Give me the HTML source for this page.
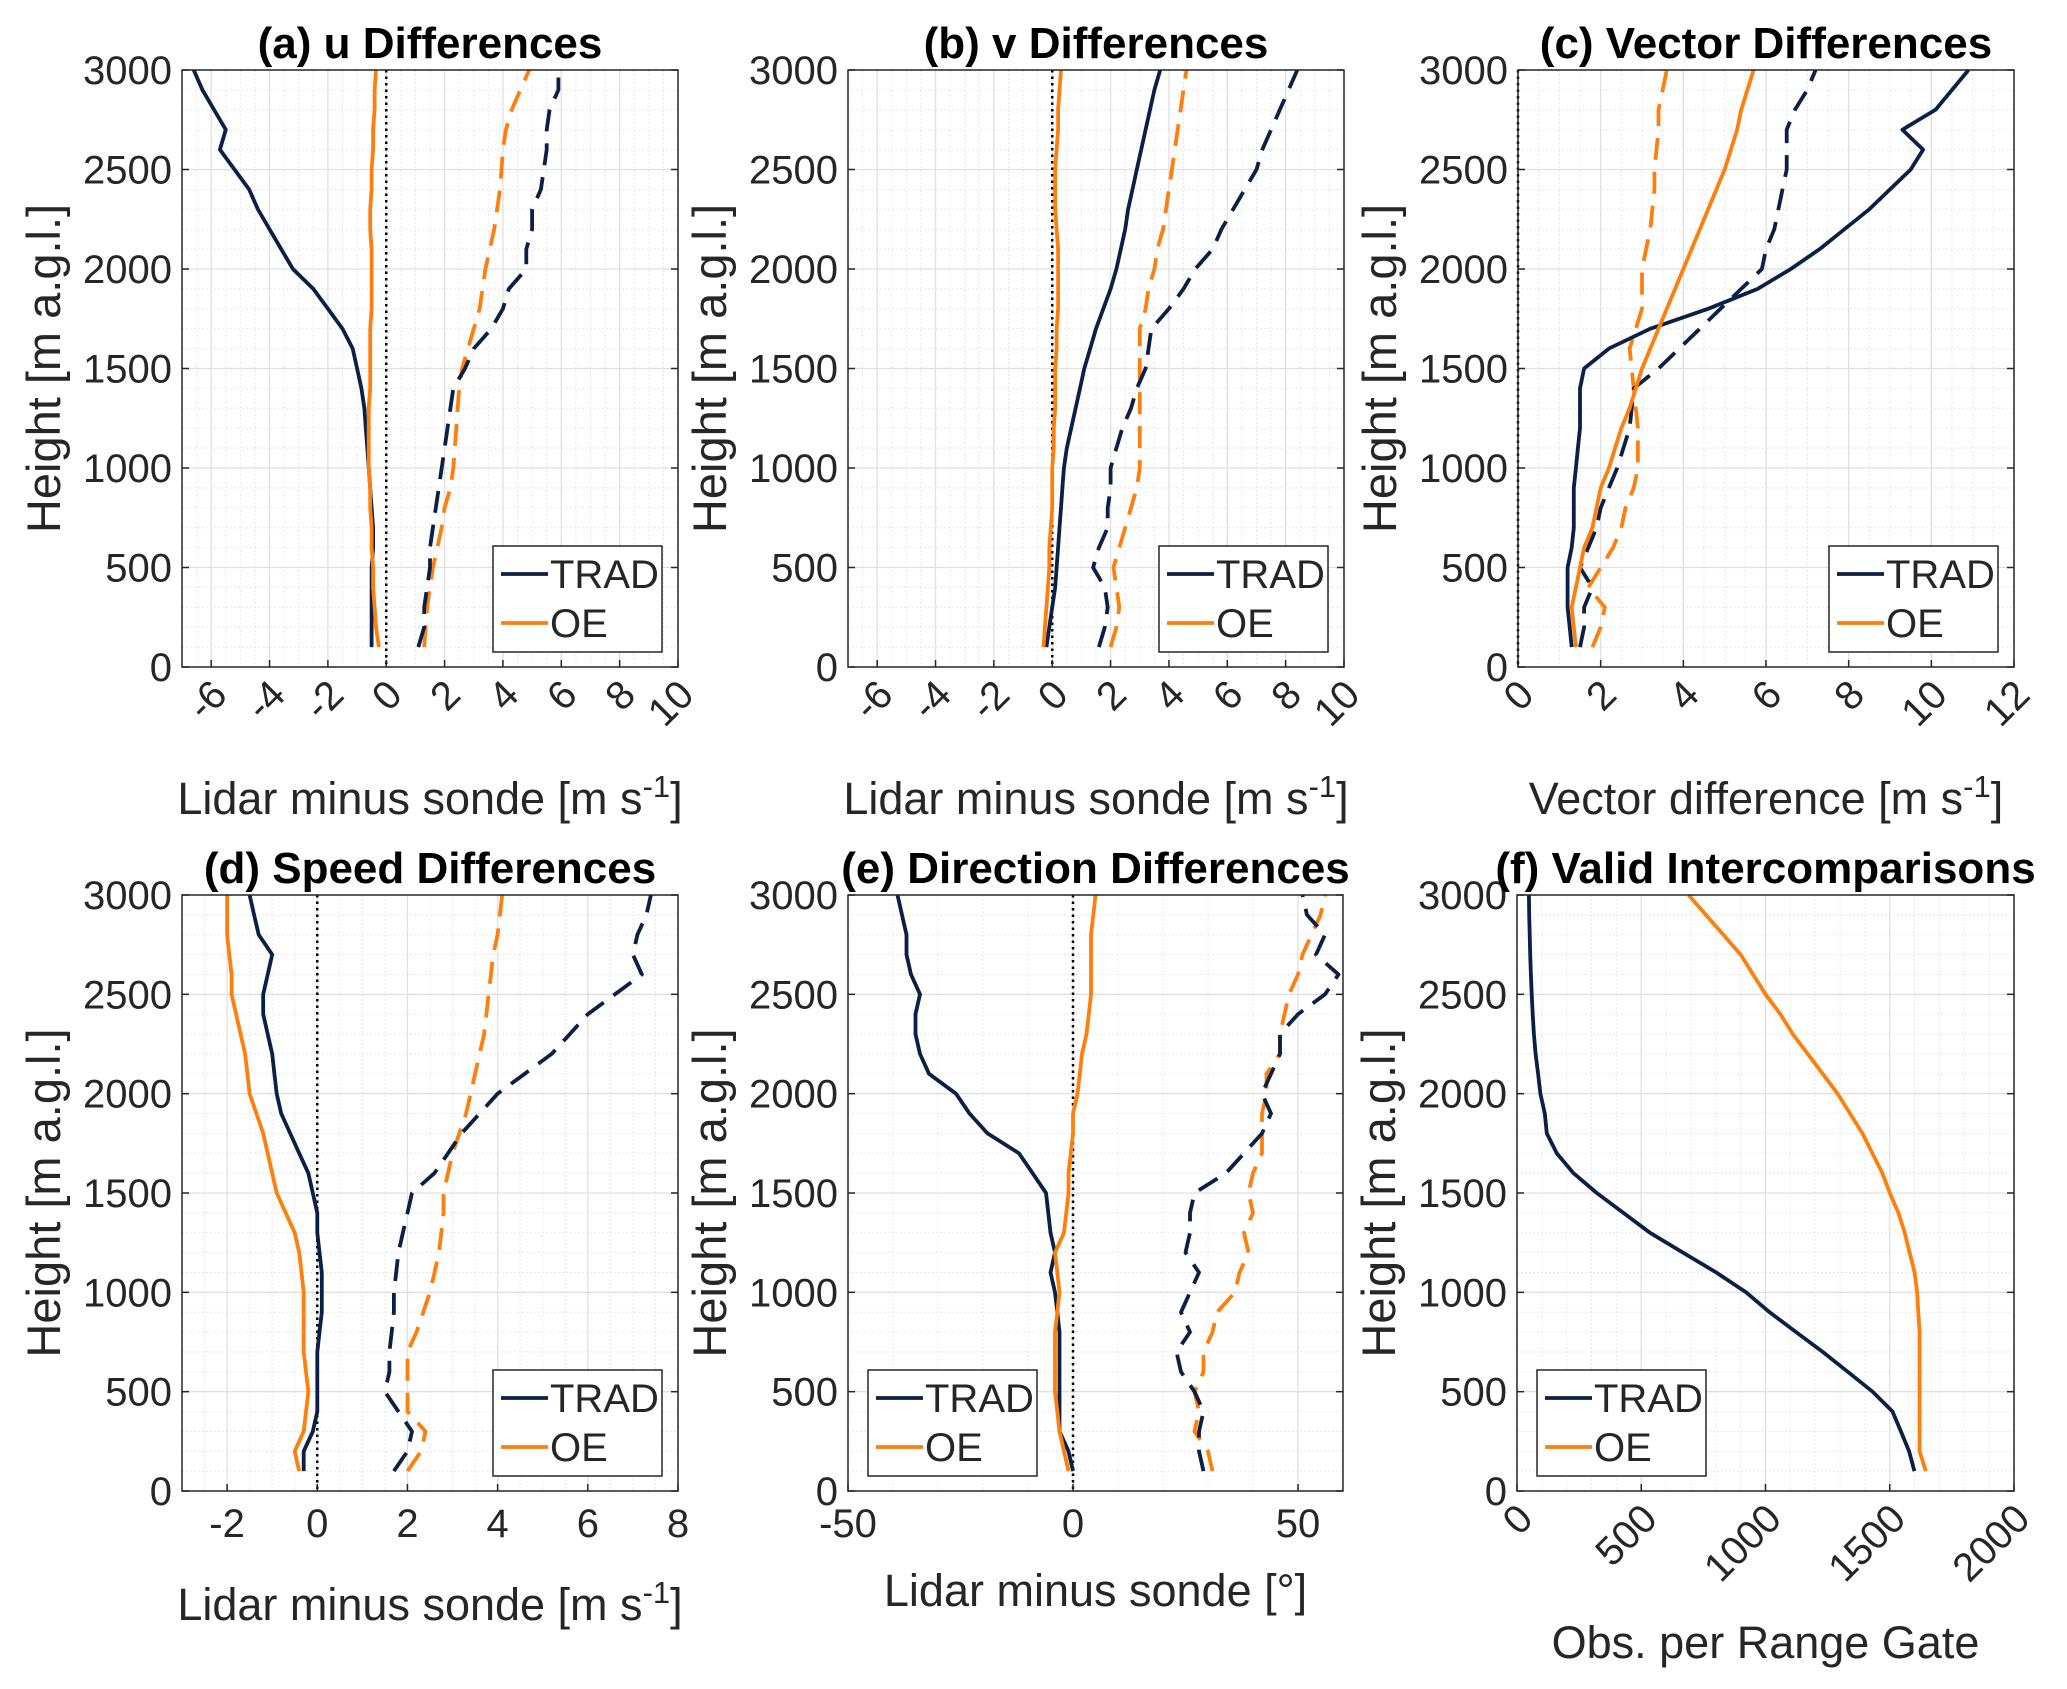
<!DOCTYPE html>
<html><head><meta charset="utf-8"><style>
html,body{margin:0;padding:0;background:#fff;}
svg text{font-family:"Liberation Sans",Arial,sans-serif;fill:#262626;}
</style></head><body>
<svg id="fig" xmlns="http://www.w3.org/2000/svg" width="2067" height="1684" viewBox="0 0 2067 1684"></svg>
<script>
const heights=[100,200,300,400,500,600,700,800,900,1000,1100,1200,1300,1400,1500,1600,1700,1800,1900,2000,2100,2200,2300,2400,2500,2600,2700,2800,2900,3000];
const yTicks=[0,500,1000,1500,2000,2500,3000];
const aTradSolid=[-0.5,-0.5,-0.5,-0.5,-0.5,-0.45,-0.45,-0.5,-0.55,-0.6,-0.65,-0.7,-0.75,-0.85,-1.0,-1.15,-1.5,-2.0,-2.5,-3.2,-3.6,-4.0,-4.4,-4.7,-5.2,-5.7,-5.5,-5.9,-6.3,-6.6];
const aOeSolid=[-0.25,-0.35,-0.4,-0.45,-0.45,-0.5,-0.5,-0.55,-0.55,-0.6,-0.6,-0.6,-0.6,-0.55,-0.55,-0.55,-0.55,-0.5,-0.5,-0.5,-0.5,-0.55,-0.55,-0.5,-0.5,-0.45,-0.45,-0.4,-0.4,-0.35];
const aTradDash=[1.1,1.3,1.3,1.4,1.5,1.5,1.6,1.7,1.8,1.9,2.0,2.1,2.2,2.3,2.7,3.0,3.6,4.0,4.2,4.8,4.8,5.0,5.0,5.3,5.4,5.5,5.5,5.6,5.9,5.9];
const aOeDash=[1.3,1.35,1.4,1.5,1.6,1.75,1.9,2.0,2.2,2.3,2.35,2.4,2.45,2.5,2.6,2.8,3.0,3.2,3.3,3.4,3.55,3.7,3.8,3.9,3.95,4.0,4.1,4.3,4.6,4.9];
const bTradSolid=[-0.2,-0.1,0,0.1,0.15,0.2,0.25,0.3,0.35,0.4,0.5,0.65,0.8,0.95,1.1,1.3,1.5,1.75,2.0,2.2,2.35,2.5,2.6,2.75,2.9,3.05,3.2,3.35,3.5,3.7];
const bOeSolid=[-0.3,-0.25,-0.2,-0.15,-0.1,-0.1,-0.05,0,0,0,0.05,0.05,0.1,0.1,0.1,0.15,0.15,0.2,0.2,0.2,0.2,0.15,0.1,0.1,0.1,0.15,0.2,0.2,0.25,0.3];
const bTradDash=[1.6,1.8,1.9,1.8,1.4,1.6,1.9,1.9,2.0,2.0,2.2,2.4,2.7,2.9,3.2,3.3,3.4,4.0,4.5,4.9,5.5,5.8,6.2,6.6,7.0,7.2,7.5,7.8,8.1,8.4];
const bOeDash=[2.0,2.2,2.3,2.2,2.1,2.3,2.5,2.7,2.9,3.0,3.0,3.0,3.0,3.0,3.0,3.0,3.0,3.2,3.3,3.5,3.6,3.8,3.9,4.0,4.1,4.2,4.3,4.4,4.5,4.6];
const cTradSolid=[1.3,1.25,1.2,1.2,1.2,1.3,1.35,1.35,1.35,1.4,1.45,1.5,1.5,1.5,1.6,2.2,3.2,4.6,5.8,6.6,7.3,7.9,8.5,9.0,9.5,9.8,9.3,10.1,10.5,10.9];
const cOeSolid=[1.4,1.35,1.3,1.4,1.5,1.6,1.8,1.9,2.0,2.2,2.35,2.5,2.7,2.85,3.0,3.2,3.4,3.6,3.8,4.0,4.2,4.4,4.6,4.8,5.0,5.15,5.3,5.4,5.55,5.7];
const cTradDash=[1.5,1.6,1.6,1.8,1.5,1.7,1.9,2.0,2.2,2.4,2.55,2.7,2.75,2.8,3.4,3.9,4.4,4.9,5.4,5.9,6.0,6.2,6.3,6.4,6.5,6.5,6.5,6.7,7.0,7.2];
const cOeDash=[1.8,2.0,2.1,1.7,2.0,2.3,2.5,2.6,2.8,2.9,2.9,2.9,2.85,2.8,2.75,2.7,2.85,3.0,3.0,3.0,3.1,3.2,3.25,3.3,3.3,3.35,3.4,3.4,3.5,3.6];
const dTradSolid=[-0.3,-0.3,-0.1,0,0,0,0,0.05,0.1,0.1,0.1,0.05,0,0,-0.1,-0.2,-0.4,-0.6,-0.8,-0.9,-0.95,-1.0,-1.1,-1.2,-1.2,-1.1,-1.0,-1.3,-1.4,-1.5];
const dOeSolid=[-0.4,-0.5,-0.3,-0.25,-0.2,-0.25,-0.3,-0.3,-0.3,-0.3,-0.35,-0.4,-0.5,-0.7,-0.9,-1.0,-1.1,-1.2,-1.35,-1.5,-1.55,-1.6,-1.7,-1.8,-1.9,-1.9,-1.95,-2.0,-2.0,-2.0];
const dTradDash=[1.7,2.0,2.1,1.8,1.5,1.6,1.6,1.65,1.7,1.7,1.75,1.8,1.9,2.0,2.1,2.6,2.9,3.2,3.6,4.0,4.6,5.2,5.6,6.0,6.6,7.2,7.0,7.1,7.3,7.4];
const dOeDash=[2.0,2.3,2.4,2.0,2.0,2.0,2.0,2.2,2.35,2.5,2.6,2.7,2.75,2.8,2.8,2.9,3.0,3.15,3.3,3.4,3.5,3.6,3.7,3.75,3.8,3.85,3.9,4.0,4.05,4.1];
const eTradSolid=[0,-1,-3,-3,-3,-3,-3,-3,-3.5,-4,-5,-4,-5,-5.5,-6,-9,-12,-19,-23,-26,-32,-34,-35,-35,-34,-36,-37,-37,-38,-39];
const eOeSolid=[-1,-2,-3,-3.5,-4,-4,-4,-4,-3.5,-3,-3.5,-4,-2,-1.5,-1,-1,-0.5,0,0,1,1.5,2,3,3.5,4,4,4,4,4.5,5];
const eTradDash=[29,28,28,29,27,24,23,26,24,26,28,25,26,26,27,34,38,42,44,42,44,46,46,50,56,59,54,56,52,51];
const eOeDash=[31,30,27,28,27,29,29,31,32,36,37,39,38,40,39,40,42,42,42,43,43,46,46,47,48,50,51,53,55,56];
const fTrad=[1599,1578,1545,1511,1431,1331,1230,1123,1016,922,802,668,535,428,321,227,160,120,112,94,85,75,68,63,59,56,53,51,49,48];
const fOe=[1645,1620,1620,1620,1620,1620,1620,1620,1615,1610,1600,1580,1560,1535,1500,1470,1430,1390,1340,1290,1230,1170,1110,1060,1000,950,900,830,760,690];

const NAVY="#0c1f46", ORANGE="#ff7f0e";
const svg=document.getElementById('fig');
const NS="http://www.w3.org/2000/svg";
function mk(tag,attrs,parent){const e=document.createElementNS(NS,tag);for(const k in attrs)e.setAttribute(k,attrs[k]);(parent||svg).appendChild(e);return e;}

const panels=[
 {id:'a',title:'(a) u Differences',x0:182,x1:678,y0:70,y1:667,xmin:-7,xmax:10,xt:[-6,-4,-2,0,2,4,6,8,10],minor:4,rot:true,xlabel:'Lidar minus sonde [m s',sup:'-1',close:']',xly:800,zero:true,legend:'right',
  series:[[aOeDash,ORANGE,true],[aTradDash,NAVY,true],[aTradSolid,NAVY,false],[aOeSolid,ORANGE,false]]},
 {id:'b',title:'(b) v Differences',x0:848,x1:1344,y0:70,y1:667,xmin:-7,xmax:10,xt:[-6,-4,-2,0,2,4,6,8,10],minor:4,rot:true,xlabel:'Lidar minus sonde [m s',sup:'-1',close:']',xly:800,zero:true,legend:'right',
  series:[[bOeDash,ORANGE,true],[bTradDash,NAVY,true],[bTradSolid,NAVY,false],[bOeSolid,ORANGE,false]]},
 {id:'c',title:'(c) Vector Differences',x0:1518,x1:2014,y0:70,y1:667,xmin:0,xmax:12,xt:[0,2,4,6,8,10,12],minor:4,rot:true,xlabel:'Vector difference [m s',sup:'-1',close:']',xly:800,zero:true,legend:'right',
  series:[[cOeDash,ORANGE,true],[cTradDash,NAVY,true],[cTradSolid,NAVY,false],[cOeSolid,ORANGE,false]]},
 {id:'d',title:'(d) Speed Differences',x0:182,x1:678,y0:895,y1:1491,xmin:-3,xmax:8,xt:[-2,0,2,4,6,8],minor:4,rot:false,xlabel:'Lidar minus sonde [m s',sup:'-1',close:']',xly:1606,zero:true,legend:'right',
  series:[[dOeDash,ORANGE,true],[dTradDash,NAVY,true],[dTradSolid,NAVY,false],[dOeSolid,ORANGE,false]]},
 {id:'e',title:'(e) Direction Differences',x0:848,x1:1343,y0:895,y1:1491,xmin:-50,xmax:60,xt:[-50,0,50],minor:5,rot:false,xlabel:'Lidar minus sonde [°]',sup:'',close:'',xly:1592,zero:true,legend:'left',
  series:[[eOeDash,ORANGE,true],[eTradDash,NAVY,true],[eTradSolid,NAVY,false],[eOeSolid,ORANGE,false]]},
 {id:'f',title:'(f) Valid Intercomparisons',x0:1517,x1:2014,y0:895,y1:1491,xmin:0,xmax:2000,xt:[0,500,1000,1500,2000],minor:5,rot:true,xlabel:'Obs. per Range Gate',sup:'',close:'',xly:1644,zero:false,legend:'left',
  series:[[fTrad,NAVY,false],[fOe,ORANGE,false]]}
];

panels.forEach(p=>{
  const g=mk('g',{});
  
  
  const sx=v=>p.x0+(v-p.xmin)/(p.xmax-p.xmin)*(p.x1-p.x0);
  const sy=v=>p.y1-v/3000*(p.y1-p.y0);
  const mg=mk('g',{stroke:'#e8e8e8','stroke-width':1,'stroke-dasharray':'2 2'},g);
  
  
  for(let h=100;h<3000;h+=100){if(h%500)mk('line',{x1:p.x0,x2:p.x1,y1:sy(h),y2:sy(h)},mg);}
  const step=p.xt[1]-p.xt[0];
  for(let v=p.xt[0]-step;v<=p.xmax;v+=step){for(let k=1;k<p.minor;k++){const vv=v+k*step/p.minor;if(vv>p.xmin&&vv<p.xmax)mk('line',{x1:sx(vv),x2:sx(vv),y1:p.y0,y2:p.y1},mg);}}
  const Mg=mk('g',{stroke:'#e0e0e0','stroke-width':1.3},g);
  
  
  yTicks.forEach(h=>mk('line',{x1:p.x0,x2:p.x1,y1:sy(h),y2:sy(h)},Mg));
  p.xt.forEach(v=>mk('line',{x1:sx(v),x2:sx(v),y1:p.y0,y2:p.y1},Mg));
  if(p.zero){const z=mk('line',{x1:sx(0),x2:sx(0),y1:p.y0,y2:p.y1,stroke:'#000','stroke-width':2.5,'stroke-dasharray':'2.5 4'},g);
    
    }
  p.series.forEach((s,i)=>{
    const d=s[0].map((v,j)=>(j?'L':'M')+sx(v).toFixed(1)+' '+sy(heights[j]).toFixed(1)).join(' ');
    const path=mk('path',{d:d,fill:'none',stroke:s[1],'stroke-width':3.8,'stroke-linejoin':'round'},g);
    if(s[2])path.setAttribute('stroke-dasharray','22 12');
    
    
  });
  const box=mk('rect',{x:p.x0,y:p.y0,width:p.x1-p.x0,height:p.y1-p.y0,fill:'none',stroke:'#262626','stroke-width':1.5},g);
  
  
  yTicks.forEach(h=>{
    mk('line',{x1:p.x0,x2:p.x0+7,y1:sy(h),y2:sy(h),stroke:'#262626','stroke-width':1.5},g);
    mk('line',{x1:p.x1,x2:p.x1-7,y1:sy(h),y2:sy(h),stroke:'#262626','stroke-width':1.5},g);
    const t=mk('text',{x:p.x0-10,y:sy(h)+14,'text-anchor':'end','font-size':40},g);t.textContent=h;
    
    
  });
  p.xt.forEach(v=>{
    mk('line',{x1:sx(v),x2:sx(v),y1:p.y1,y2:p.y1-7,stroke:'#262626','stroke-width':1.5},g);
    let t;
    if(p.rot){const ax=sx(v)+18, ay=p.y1+30;
      t=mk('text',{x:ax,y:ay,'text-anchor':'end','font-size':40,transform:'rotate(-45 '+ax+' '+ay+')'},g);}
    else{t=mk('text',{x:sx(v),y:p.y1+46,'text-anchor':'middle','font-size':40},g);}
    t.textContent=v;
    
    
  });
  const ti=mk('text',{x:(p.x0+p.x1)/2,y:p.y0-12,'text-anchor':'middle','font-size':44,'font-weight':'bold'},g);
  ti.textContent=p.title;ti.style.fill='#000';
  
  
  const yl=mk('text',{x:0,y:0,'text-anchor':'middle','font-size':47,transform:'translate('+(p.x0-122)+' '+((p.y0+p.y1)/2)+') rotate(-90)'},g);
  yl.textContent='Height [m a.g.l.]';
  
  
  const xl=mk('text',{x:(p.x0+p.x1)/2,y:p.xly+14,'text-anchor':'middle','font-size':45},g);
  
  
  const t1=mk('tspan',{},xl);t1.textContent=p.xlabel;
  if(p.sup){const t2=mk('tspan',{dy:-17,'font-size':31},xl);t2.textContent=p.sup;const t3=mk('tspan',{dy:17},xl);t3.textContent=p.close;}
  const lw=169,lh=106;
  const lx=p.legend==='right'?p.x1-lw-16:p.x0+20, ly=p.y1-lh-15;
  const lg=mk('g',{},g);
  
  
  mk('rect',{x:lx,y:ly,width:lw,height:lh,fill:'#fff',stroke:'#262626','stroke-width':1.5},lg);
  [['TRAD',NAVY],['OE',ORANGE]].forEach((e,i)=>{
    const yy=ly+28+i*49;
    const en=mk('g',{},lg);
    
    
    mk('line',{x1:lx+8,x2:lx+55,y1:yy,y2:yy,stroke:e[1],'stroke-width':3.8},en);
    const t=mk('text',{x:lx+57,y:yy+14,'font-size':40},en);t.textContent=e[0];
  });
});
</script>
</body></html>
